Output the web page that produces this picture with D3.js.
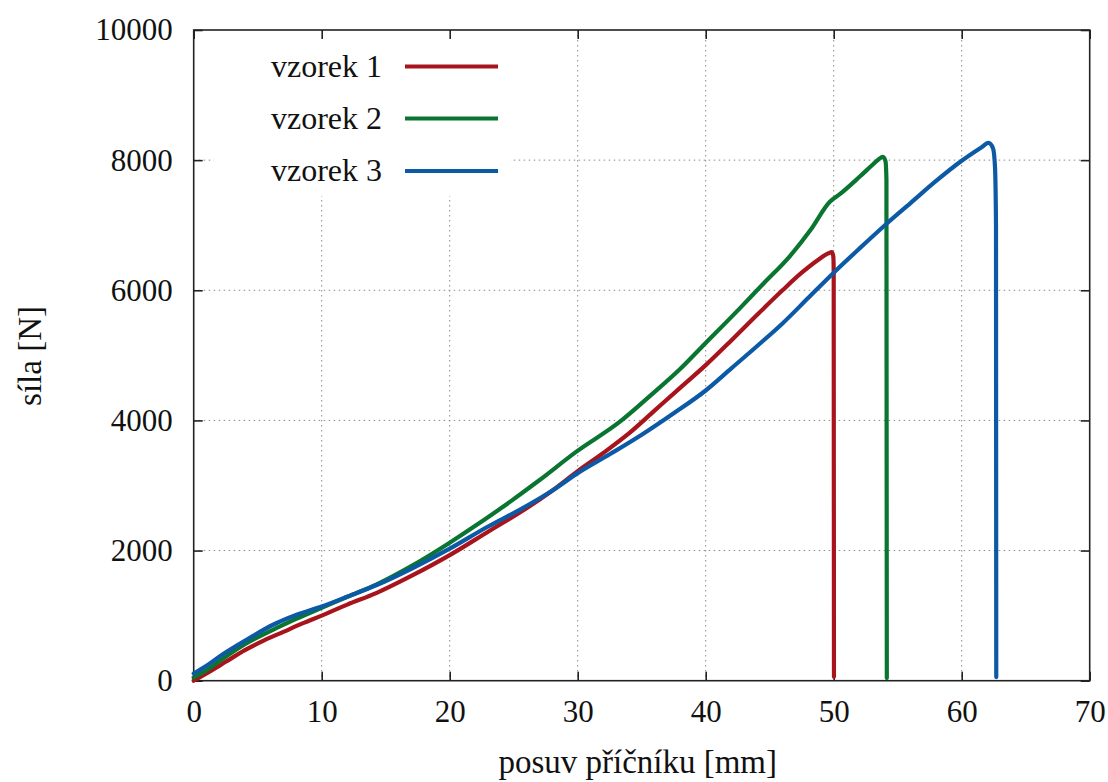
<!DOCTYPE html>
<html>
<head>
<meta charset="utf-8">
<script src="https://cdn.jsdelivr.net/npm/d3@7"></script>
<style>
  body { margin: 0; background: #fff; }
  text { font-family: "Liberation Serif", "DejaVu Serif", serif; fill: #111; }
</style>
</head>
<body>
<div id="chart"></div>
<script>
////////////////////////////////////////////////////////////////////////
// Data: [posuv (mm), sila (N)]

let seriesNames = ["vzorek 1", "vzorek 2", "vzorek 3"];
let seriesColors = ["#a8141c", "#0a7531", "#0c5aa6"];

let vzorek1 = [
  [0, 0], [1.5, 170], [2.5, 290], [4, 470], [5.5, 620], [7, 750], [8.5, 880],
  [10, 1000], [12, 1170], [14.3, 1350], [17, 1610], [20, 1930], [23, 2290],
  [26, 2650], [28, 2920], [30, 3220], [32, 3500], [34, 3800], [36, 4150],
  [38, 4500], [40, 4850], [42, 5230], [44, 5620], [46, 6000], [47.5, 6270],
  [48.8, 6470], [49.6, 6570], [49.85, 6585], [49.97, 6520], [50.0, 6300], [50.02, 60]
];

let vzorek2 = [
  [0, 50], [1, 160], [2, 300], [4, 560], [6.7, 830], [8, 950], [10, 1120],
  [12, 1290], [14.3, 1480], [17, 1760], [20, 2120], [22, 2380], [24, 2650],
  [27, 3080], [29.9, 3520], [33.3, 3980], [35.9, 4420], [38, 4790], [39.6, 5110],
  [42.7, 5730], [44.5, 6100], [46.6, 6530], [48.2, 6930], [49.7, 7360],
  [50.5, 7480], [52, 7740], [53.1, 7940], [53.5, 8010], [53.85, 8050],
  [54.05, 7980], [54.12, 7700], [54.15, 40]
];

let vzorek3 = [
  [0, 110], [1, 230], [2, 370], [4.1, 625], [6.2, 860], [8, 1010], [10, 1140],
  [12, 1290], [14.3, 1470], [17, 1720], [20, 2030], [23, 2370], [25.5, 2630],
  [28, 2920], [30, 3190], [32.5, 3480], [35, 3780], [37.5, 4110], [40, 4460],
  [42, 4800], [44, 5140], [46, 5490], [48, 5880], [50, 6270], [52, 6640],
  [54, 7000], [56, 7340], [58, 7680], [60, 7990], [61.5, 8190], [62.1, 8265],
  [62.45, 8180], [62.6, 7900], [62.68, 7000], [62.7, 55]
];

let allSeries = [vzorek1, vzorek2, vzorek3];

let xTicks = [0, 10, 20, 30, 40, 50, 60, 70];
let yTicks = [0, 2000, 4000, 6000, 8000, 10000];

let xLabel = "posuv příčníku [mm]";
let yLabel = "síla [N]";

////////////////////////////////////////////////////////////////////////
// Layout

let width = 1108;
let height = 782;
let plotLeft = 193.7, plotRight = 1089.7, plotTop = 30, plotBottom = 680.7;

let svg = d3.select("#chart")
  .append("svg")
  .attr("width", width)
  .attr("height", height);

let xScale = d3.scaleLinear().domain([0, 70]).range([plotLeft, plotRight]);
let yScale = d3.scaleLinear().domain([0, 10000]).range([plotBottom, plotTop]);

// dotted grid
let grid = svg.append("g")
  .attr("stroke", "#8a8a8a")
  .attr("stroke-width", 1)
  .attr("stroke-dasharray", "1.5,3.5");

grid.selectAll(".gx")
  .data(xTicks.slice(1, -1))
  .enter()
  .append("line")
  .attr("x1", d => xScale(d)).attr("x2", d => xScale(d))
  .attr("y1", plotTop).attr("y2", plotBottom);

grid.selectAll(".gy")
  .data(yTicks.slice(1, -1))
  .enter()
  .append("line")
  .attr("x1", plotLeft).attr("x2", plotRight)
  .attr("y1", d => yScale(d)).attr("y2", d => yScale(d));

// legend box hides the grid behind it
svg.append("rect")
  .attr("x", 214).attr("y", plotTop + 1)
  .attr("width", 296).attr("height", 165)
  .attr("fill", "#fff");

// axes, ticks pointing inward, mirrored on top and right
let tickLen = 9;

svg.append("g")
  .attr("transform", "translate(0," + plotBottom + ")")
  .call(d3.axisBottom(xScale).tickValues(xTicks).tickSize(-tickLen).tickPadding(19).tickFormat(d3.format("d")))
  .call(g => g.select(".domain").remove());

svg.append("g")
  .attr("transform", "translate(" + plotLeft + ",0)")
  .call(d3.axisLeft(yScale).tickValues(yTicks).tickSize(-tickLen).tickPadding(21).tickFormat(d3.format("d")))
  .call(g => g.select(".domain").remove());

svg.append("g")
  .attr("transform", "translate(0," + plotTop + ")")
  .call(d3.axisTop(xScale).tickValues(xTicks).tickSize(-tickLen).tickFormat(""))
  .call(g => g.select(".domain").remove());

svg.append("g")
  .attr("transform", "translate(" + plotRight + ",0)")
  .call(d3.axisRight(yScale).tickValues(yTicks).tickSize(-tickLen).tickFormat(""))
  .call(g => g.select(".domain").remove());

svg.selectAll(".tick line").attr("stroke", "#222").attr("stroke-width", 1.6);
svg.selectAll(".tick text")
  .attr("font-size", 31)
  .attr("fill", "#111")
  .style("font-family", "'Liberation Serif', serif");

// frame
svg.append("rect")
  .attr("x", plotLeft).attr("y", plotTop)
  .attr("width", plotRight - plotLeft).attr("height", plotBottom - plotTop)
  .attr("fill", "none")
  .attr("stroke", "#222")
  .attr("stroke-width", 1.6);

// curves (x strictly increasing, so monotone interpolation works and
// does not overshoot at the sudden drop)
let line = d3.line()
  .x(d => xScale(d[0]))
  .y(d => yScale(d[1]))
  .curve(d3.curveMonotoneX);

svg.append("g")
  .selectAll("path")
  .data(allSeries)
  .enter()
  .append("path")
  .attr("d", line)
  .attr("fill", "none")
  .attr("stroke", (d, i) => seriesColors[i])
  .attr("stroke-width", 4.2)
  .attr("stroke-linejoin", "round")
  .attr("stroke-linecap", "round");

// legend
let legendY = [66.5, 118.5, 171];
let legend = svg.append("g")
  .selectAll("g")
  .data(seriesNames)
  .enter()
  .append("g")
  .attr("transform", (d, i) => "translate(0," + legendY[i] + ")");

legend.append("text")
  .attr("x", 382)
  .attr("y", 10)
  .attr("text-anchor", "end")
  .attr("font-size", 32)
  .text(d => d);

legend.append("line")
  .attr("x1", 405).attr("x2", 498)
  .attr("y1", 0).attr("y2", 0)
  .attr("stroke", (d, i) => seriesColors[i])
  .attr("stroke-width", 4.2);

// axis titles
svg.append("text")
  .attr("x", (plotLeft + plotRight) / 2 - 4)
  .attr("y", 773)
  .attr("text-anchor", "middle")
  .attr("font-size", 33)
  .text(xLabel);

svg.append("text")
  .attr("transform", "translate(41,356) rotate(-90)")
  .attr("text-anchor", "middle")
  .attr("font-size", 33)
  .text(yLabel);
</script>
</body>
</html>
